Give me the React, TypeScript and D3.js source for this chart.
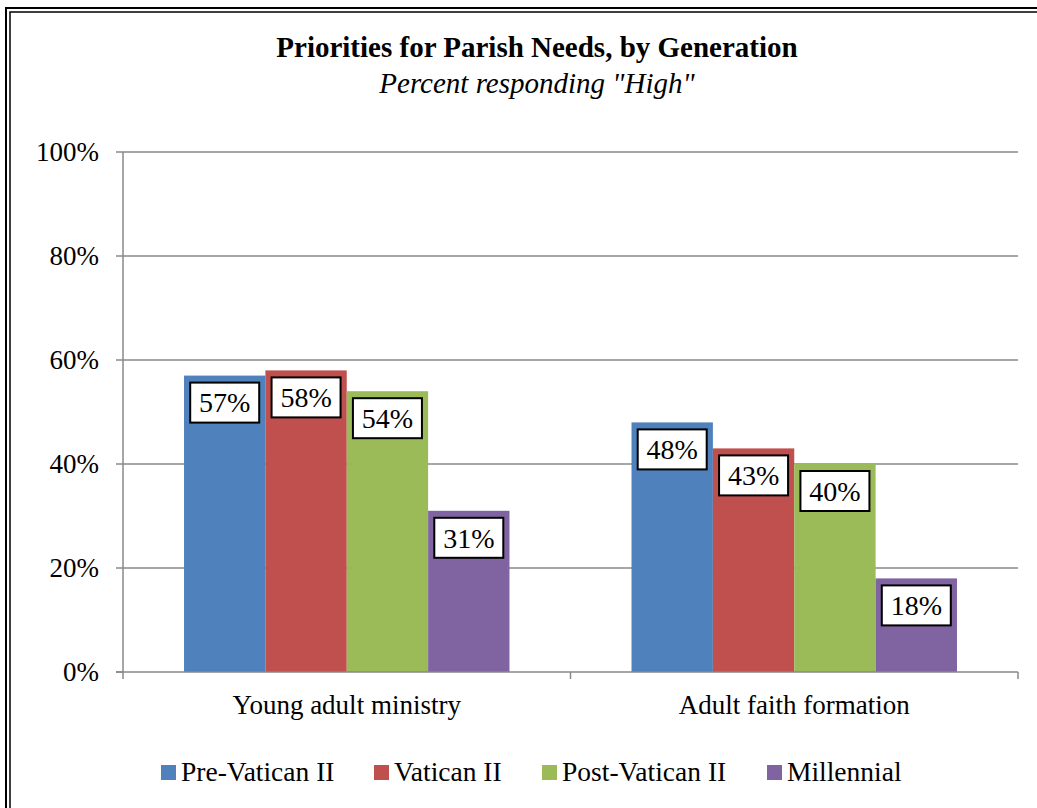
import React from 'react';
import * as d3 from 'd3';

// chart data
const categories = ['Young adult ministry', 'Adult faith formation'];
const seriesNames = ['Pre-Vatican II', 'Vatican II', 'Post-Vatican II', 'Millennial'];
const seriesColors = ['#4F81BD', '#C0504D', '#9BBB59', '#8064A2'];
const preVatican = [57, 48];
const vatican = [58, 43];
const postVatican = [54, 40];
const millennial = [31, 18];
const yTicks = [0, 20, 40, 60, 80, 100];

const values = [preVatican, vatican, postVatican, millennial];

const W = 1037;
const H = 808;
const margin = { top: 152, right: 19, bottom: 136, left: 123 };
const font = '"Liberation Serif", "Times New Roman", serif';
const gridColor = '#888888';

const App = () => {
  const x0 = d3.scaleBand<string>()
    .domain(categories)
    .range([margin.left, W - margin.right]);

  const x1 = d3.scaleBand<string>()
    .domain(seriesNames)
    .range([0, x0.bandwidth()])
    .paddingInner(0)
    .paddingOuter(0.75);

  const y = d3.scaleLinear()
    .domain([0, 100])
    .range([H - margin.bottom, margin.top]);

  const y0 = y(0);
  const boxW = 69;
  const boxH = 40;

  // legend layout (square x positions)
  const legendX = [161, 374, 542, 767];
  const legendY = 781;

  return (
    <svg width={W} height={H} style={{ position: 'absolute', left: 0, top: 0, background: '#fff' }}
      fontFamily={font}>
      <rect x={0} y={0} width={W} height={H} fill="#fff" />
      {/* double frame */}
      <rect x={6} y={8} width={W + 40} height={H + 40} fill="none" stroke="#000" strokeWidth={2} />
      <rect x={10} y={12} width={W + 40} height={H + 40} fill="none" stroke="#000" strokeWidth={1.5} />

      {/* title */}
      <text x={537} y={57} textAnchor="middle" fontSize={29} fontWeight="bold">
        Priorities for Parish Needs, by Generation
      </text>
      <text x={537} y={93} textAnchor="middle" fontSize={29} fontStyle="italic">
        Percent responding "High"
      </text>

      {/* gridlines */}
      {yTicks.filter(t => t > 0).map(t => (
        <line key={t} x1={margin.left} x2={W - margin.right} y1={y(t)} y2={y(t)}
          stroke={gridColor} strokeWidth={1.5} />
      ))}

      {/* y axis */}
      <line x1={margin.left} x2={margin.left} y1={margin.top} y2={y0} stroke={gridColor} strokeWidth={1.5} />
      {yTicks.map(t => (
        <g key={t}>
          <line x1={margin.left - 7} x2={margin.left} y1={y(t)} y2={y(t)} stroke={gridColor} strokeWidth={1.5} />
          <text x={99} y={y(t)} dy="0.35em" textAnchor="end" fontSize={27}>{t}%</text>
        </g>
      ))}

      {/* bars */}
      {categories.map((c, ci) => (
        <g key={c} transform={`translate(${x0(c)},0)`}>
          {seriesNames.map((s, si) => (
            <rect key={s} x={x1(s)} width={x1.bandwidth()} y={y(values[si][ci])}
              height={y0 - y(values[si][ci])} fill={seriesColors[si]} />
          ))}
        </g>
      ))}

      {/* x axis */}
      <line x1={margin.left - 7} x2={W - margin.right} y1={y0} y2={y0} stroke={gridColor} strokeWidth={1.5} />
      {[...categories.map(c => x0(c) as number), W - margin.right].map((xv, i) => (
        <line key={i} x1={xv} x2={xv} y1={y0} y2={y0 + 7} stroke={gridColor} strokeWidth={1.5} />
      ))}
      {categories.map(c => (
        <text key={c} x={(x0(c) as number) + x0.bandwidth() / 2} y={714} textAnchor="middle" fontSize={27}>
          {c}
        </text>
      ))}

      {/* data labels */}
      {categories.map((c, ci) => (
        <g key={c} transform={`translate(${x0(c)},0)`}>
          {seriesNames.map((s, si) => {
            const cx = (x1(s) as number) + x1.bandwidth() / 2;
            const top = y(values[si][ci]) + 7;
            return (
              <g key={s}>
                <rect x={cx - boxW / 2} y={top} width={boxW} height={boxH} fill="#fff"
                  stroke="#000" strokeWidth={2} />
                <text x={cx} y={top + boxH / 2} dy="0.35em" textAnchor="middle" fontSize={28}>
                  {values[si][ci]}%
                </text>
              </g>
            );
          })}
        </g>
      ))}

      {/* legend */}
      {seriesNames.map((s, i) => (
        <g key={s}>
          <rect x={legendX[i]} y={legendY - 16} width={15} height={15} fill={seriesColors[i]} />
          <text x={legendX[i] + 20} y={legendY} fontSize={27.5}>{s}</text>
        </g>
      ))}
    </svg>
  );
};

export default App;
